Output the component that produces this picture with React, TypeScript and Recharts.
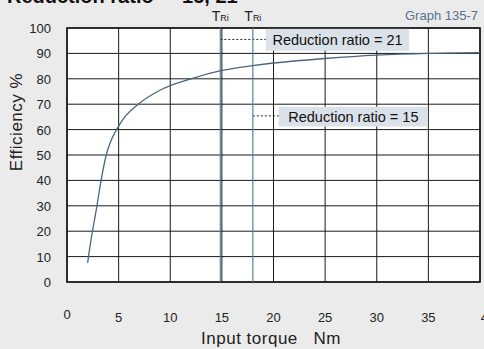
import {
  LineChart,
  Line,
  XAxis,
  YAxis,
  CartesianGrid,
  ReferenceLine,
  ReferenceArea,
} from "recharts";

/* ------------------------------------------------------------------ */
/* Data */
/* ------------------------------------------------------------------ */

const torque = [2, 2.17, 2.9, 3.3, 3.8, 4.2, 4.8, 5.6, 6.9, 9, 12, 15, 18, 22, 25, 30, 35, 40];
const efficiency = [7.5, 12.5, 30, 40, 50, 55, 60, 65, 70, 75.5, 80, 83.3, 85.2, 87, 88, 89.3, 90, 90.3];

const xTicks = [0, 5, 10, 15, 20, 25, 30, 35, 40];
const yTicks = [0, 10, 20, 30, 40, 50, 60, 70, 80, 90, 100];

const tRiMarks = [14.85, 18];

const ratioBoxes = [
  { text: "Reduction ratio = 21", from: 14.85, x1: 19.26, x2: 33.14, y1: 91, y2: 100, lineY: 95.5 },
  { text: "Reduction ratio = 15", from: 18, x1: 20.5, x2: 34.97, y1: 61.2, y2: 69, lineY: 65.4 },
];

const data = torque.map((t, i) => ({ torque: t, eff: efficiency[i] }));

/* ------------------------------------------------------------------ */
/* Pieces */
/* ------------------------------------------------------------------ */

const LINE_COLOR = "#4a6580";
const MARK_COLOR = "#5f7f9e";
const FONT = "'Liberation Sans', Arial, sans-serif";

const XTick = (props: any) => {
  const { x, payload } = props;
  const v = payload.value as number;
  const dx = v === 40 ? 8 : 0;
  const y = v === 0 ? 319 : 322;
  return (
    <text x={x + dx} y={y} textAnchor="middle" fontSize={13} fill="#222">
      {v}
    </text>
  );
};

const YTick = (props: any) => {
  const { y, payload } = props;
  return (
    <text x={51} y={y + 5} textAnchor="end" fontSize={13} fill="#222">
      {payload.value}
    </text>
  );
};

const TRiLabel = (props: any) => {
  const { viewBox } = props;
  return (
    <text x={viewBox.x} y={20.5} textAnchor="middle" fill="#222">
      <tspan fontSize={14}>T</tspan>
      <tspan fontSize={9}>Ri</tspan>
    </text>
  );
};

/* ------------------------------------------------------------------ */
/* Chart */
/* ------------------------------------------------------------------ */

export default function App() {
  return (
    <div
      style={{
        position: "fixed",
        left: 0,
        top: 0,
        width: 484,
        height: 349,
        background: "#ebebeb",
        fontFamily: FONT,
        overflow: "hidden",
      }}
    >
      <LineChart
        width={484}
        height={349}
        data={data}
        margin={{ top: 28, right: 4, bottom: 0, left: 0 }}
      >
        <CartesianGrid stroke="#1a1a1a" strokeWidth={1} fill="#ffffff" fillOpacity={1} />
        <XAxis
          dataKey="torque"
          type="number"
          domain={[0, 40]}
          ticks={xTicks}
          height={67}
          axisLine={false}
          tickLine={false}
          tick={XTick}
          interval={0}
        />
        <YAxis
          type="number"
          domain={[0, 100]}
          ticks={yTicks}
          width={67}
          axisLine={false}
          tickLine={false}
          tick={YTick}
          interval={0}
        />

        {ratioBoxes.map(b => (
          <ReferenceArea
            key={b.text}
            x1={b.x1}
            x2={b.x2}
            y1={b.y1}
            y2={b.y2}
            fill="#dbe1e8"
            fillOpacity={1}
            stroke="none"
            label={{ value: b.text, position: "center", fontSize: 14.5, fill: "#111" }}
          />
        ))}
        {ratioBoxes.map(b => (
          <ReferenceLine
            key={b.text + "-lead"}
            segment={[
              { x: b.from, y: b.lineY },
              { x: b.x1, y: b.lineY },
            ]}
            stroke="#222"
            strokeDasharray="2 2"
          />
        ))}

        <ReferenceArea
          x1={0}
          x2={40}
          y1={0}
          y2={100}
          fill="none"
          stroke="#111"
          strokeWidth={1.5}
        />

        {tRiMarks.map(t => (
          <ReferenceLine
            key={t}
            x={t}
            stroke={MARK_COLOR}
            strokeWidth={1.2}
            label={TRiLabel}
          />
        ))}

        <Line
          dataKey="eff"
          type="monotone"
          stroke={LINE_COLOR}
          strokeWidth={1.3}
          dot={false}
          isAnimationActive={false}
        />
      </LineChart>

      <svg
        width={484}
        height={349}
        style={{ position: "absolute", left: 0, top: 0, pointerEvents: "none" }}
      >
        <text x={7} y={3} fontSize={20} fontWeight="bold" fill="#111" xmlSpace="preserve">
          Reduction ratio  = 15, 21
        </text>
        <text x={478} y={20} textAnchor="end" fontSize={13} fill="#5a7290">
          Graph 135-7
        </text>
        <text
          x={271}
          y={344}
          textAnchor="middle"
          fontSize={17}
          letterSpacing={0.5}
          fill="#222"
          xmlSpace="preserve"
        >
          Input torque   Nm
        </text>
        <text
          x={0}
          y={0}
          transform="translate(22 122) rotate(-90)"
          textAnchor="middle"
          fontSize={17}
          letterSpacing={0.5}
          fill="#222"
        >
          Efficiency %
        </text>
      </svg>
    </div>
  );
}
